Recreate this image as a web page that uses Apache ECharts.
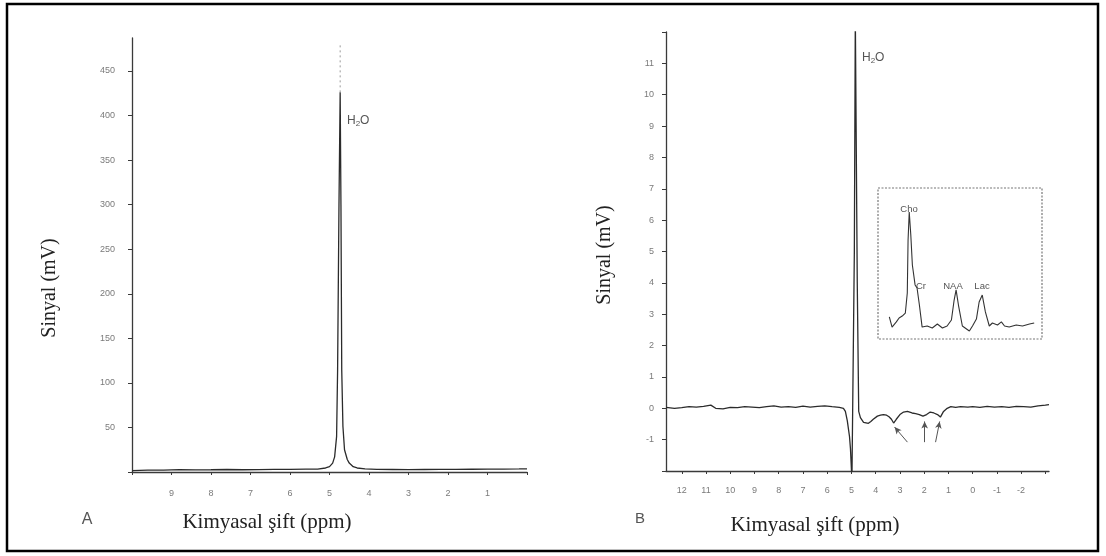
<!DOCTYPE html>
<html><head><meta charset="utf-8">
<script src="https://cdn.jsdelivr.net/npm/echarts@6/dist/echarts.min.js"></script>
<style>html,body{margin:0;padding:0;background:#fff}#c{width:1106px;height:556px}</style>
</head><body><div id="c"></div>
<script>
// ---- Panel A (full spectrum) ----
const leftPpm    = [10, 9.6, 9.2, 8.8, 8.4, 8.0, 7.6, 7.2, 6.8, 6.4, 6.0, 5.6, 5.3, 5.1, 5.0, 4.92, 4.87, 4.82, 4.795, 4.76, 4.73, 4.71, 4.69, 4.66, 4.62, 4.55, 4.5, 4.4, 4.3, 4.1, 3.8, 3.4, 3.0, 2.6, 2.2, 1.8, 1.4, 1.0, 0.6, 0.2, 0.0];
const leftSignal = [1.5, 2.2, 2.0, 2.6, 2.3, 2.5, 2.8, 2.5, 2.7, 2.9, 3.0, 3.2, 3.3, 4.5, 6, 10, 17, 40, 114, 300, 426, 300, 114, 51, 25, 14, 10, 6, 4.5, 3.5, 3.0, 2.8, 2.6, 2.8, 3.0, 2.9, 3.1, 3.2, 3.3, 3.4, 3.5];
const leftGhostPpm = [4.73, 4.73];
const leftGhostSignal = [426, 482];
const leftXTicks = [10, 9, 8, 7, 6, 5, 4, 3, 2, 1, 0];
const leftXLabels = [9, 8, 7, 6, 5, 4, 3, 2, 1];
const leftYTicks = [0, 50, 100, 150, 200, 250, 300, 350, 400, 450];
const leftYLabels = [50, 100, 150, 200, 250, 300, 350, 400, 450];

// ---- Panel B (water-suppressed spectrum) ----
const rightPpm    = [12.65, 12.3, 12.0, 11.7, 11.4, 11.1, 10.8, 10.6, 10.3, 10.0, 9.7, 9.4, 9.1, 8.8, 8.5, 8.2, 7.9, 7.6, 7.3, 7.0, 6.7, 6.4, 6.1, 5.8, 5.5, 5.33, 5.25, 5.17, 5.08, 5.04, 4.98, 4.92, 4.88, 4.84, 4.76, 4.7, 4.63, 4.5, 4.42, 4.3, 4.2, 4.1, 3.93, 3.8, 3.68, 3.55, 3.45, 3.35, 3.26, 3.15, 3.0, 2.85, 2.69, 2.5, 2.35, 2.2, 2.05, 1.98, 1.9, 1.75, 1.6, 1.45, 1.33, 1.2, 1.05, 0.9, 0.7, 0.5, 0.2, 0.0, -0.3, -0.6, -0.9, -1.2, -1.5, -1.8, -2.1, -2.4, -2.7, -3.0, -3.15];
const rightSignal = [0.03, 0.0, 0.02, 0.05, 0.04, 0.06, 0.1, 0.0, -0.02, 0.03, 0.02, 0.05, 0.04, 0.02, 0.05, 0.08, 0.04, 0.05, 0.03, 0.07, 0.04, 0.06, 0.08, 0.05, 0.03, 0.0, -0.1, -0.4, -0.9, -1.3, -2.3, -2.3, 5, 12.5, 4, -0.1, -0.3, -0.45, -0.4, -0.48, -0.42, -0.35, -0.25, -0.22, -0.2, -0.22, -0.27, -0.35, -0.47, -0.35, -0.2, -0.12, -0.1, -0.15, -0.17, -0.2, -0.25, -0.3, -0.2, -0.12, -0.15, -0.2, -0.28, -0.1, 0.0, 0.05, 0.03, 0.05, 0.04, 0.05, 0.03, 0.06, 0.04, 0.05, 0.03, 0.06, 0.05, 0.04, 0.08, 0.1, 0.12];
const rightXTicks = [12, 11, 10, 9, 8, 7, 6, 5, 4, 3, 2, 1, 0, -1, -2, -3];
const rightXLabels = [12, 11, 10, 9, 8, 7, 6, 5, 4, 3, 2, 1, 0, -1, -2];
const rightYTicks = [-2, -1, 0, 1, 2, 3, 4, 5, 6, 7, 8, 9, 10, 11, 12];
const rightYLabels = [-1, 0, 1, 2, 3, 4, 5, 6, 7, 8, 9, 10, 11];
// arrows pointing to the negative dips: [fromPpm, fromSignal, toPpm, toSignal]
const arrowFrom = [[2.69, -1.08], [1.98, -1.08], [1.53, -1.08]];
const arrowTo   = [[3.22, -0.6], [1.98, -0.42], [1.36, -0.42]];

// ---- Inset (metabolite region) ----
const insetPpm    = [3.71, 3.64, 3.53, 3.46, 3.38, 3.30, 3.25, 3.23, 3.20, 3.16, 3.12, 3.05, 3.0, 2.94, 2.87, 2.74, 2.61, 2.48, 2.35, 2.23, 2.12, 2.05, 2.0, 1.94, 1.84, 1.66, 1.58, 1.48, 1.41, 1.33, 1.25, 1.15, 1.07, 0.94, 0.84, 0.76, 0.64, 0.46, 0.30, 0.12, 0.0];
const insetSignal = [14.6, 7.9, 11.3, 13.9, 15.2, 17.2, 30.5, 65.6, 84.1, 68.9, 49, 35.8, 33.8, 22.5, 7.9, 8.6, 7.3, 9.9, 7.3, 8.6, 12.6, 25.8, 32.5, 22.5, 8.6, 5.3, 8.6, 13.2, 24.5, 29.1, 17.9, 8.6, 10.6, 9.3, 11.3, 8.6, 7.9, 9.3, 8.6, 9.9, 10.6];

const zip = (a, b) => a.map((v, i) => [v, b[i]]);
const LINE = '#2b2b2b';
const AXC = '#3a3a3a';
const LBL = '#7a7a7a';

function xAx(gi, min, max, ticks, labels, margin, show) {
  return {
    type: 'value', gridIndex: gi, min: min, max: max, inverse: true, show: show !== false,
    axisLine: {show: true, onZero: false, lineStyle: {color: AXC, width: 1.3}},
    axisTick: {show: true, length: 3, customValues: ticks, lineStyle: {color: AXC, width: 1}},
    axisLabel: {customValues: labels, margin: margin, fontSize: 9, color: LBL, fontFamily: 'Liberation Sans'},
    splitLine: {show: false}
  };
}
function yAx(gi, min, max, ticks, labels, margin, show) {
  return {
    type: 'value', gridIndex: gi, min: min, max: max, show: show !== false,
    axisLine: {show: true, onZero: false, lineStyle: {color: AXC, width: 1.3}},
    axisTick: {show: true, length: 4, customValues: ticks, lineStyle: {color: AXC, width: 1}},
    axisLabel: {customValues: labels, margin: margin, fontSize: 9, color: LBL, fontFamily: 'Liberation Sans'},
    splitLine: {show: false}
  };
}

const serif = 'Liberation Serif';
function txt(x, y, text, size, opts) {
  return Object.assign({
    type: 'text', x: x, y: y,
    style: Object.assign({text: text, font: size + 'px "' + serif + '"', fill: '#222', align: 'center', verticalAlign: 'middle'}, (opts && opts.style) || {})
  }, opts && opts.rotation !== undefined ? {rotation: opts.rotation} : {});
}
function h2o(x, y) {
  return {
    type: 'text', x: x, y: y,
    style: {
      text: 'H{s|2}O', fill: '#555', align: 'left', verticalAlign: 'middle',
      font: '12px "Liberation Sans"',
      rich: {s: {fontSize: 8, fill: '#555', verticalAlign: 'bottom', padding: [6, 0, 0, 0]}}
    }
  };
}
function small(x, y, text) {
  return {type: 'text', x: x, y: y, style: {text: text, font: '9.5px "Liberation Sans"', fill: '#555', align: 'center', verticalAlign: 'middle'}};
}

const chart = echarts.init(document.getElementById('c'), null, {renderer: 'canvas'});
chart.setOption({
  animation: false,
  backgroundColor: '#fff',
  grid: [
    {left: 132, top: 38, width: 395, height: 434},
    {left: 666, top: 32, width: 383, height: 439},
    {left: 878, top: 188, width: 164, height: 151}
  ],
  xAxis: [
    xAx(0, 0, 10, leftXTicks, leftXLabels, 17),
    xAx(1, -3.15, 12.65, rightXTicks, rightXLabels, 15),
    {type: 'value', gridIndex: 2, min: -0.2, max: 4.0, inverse: true, show: false}
  ],
  yAxis: [
    yAx(0, 0, 487, leftYTicks, leftYLabels, 17),
    yAx(1, -2, 12, rightYTicks, rightYLabels, 12),
    {type: 'value', gridIndex: 2, min: 0, max: 100, show: false}
  ],
  series: [
    {type: 'line', xAxisIndex: 0, yAxisIndex: 0, data: zip(leftPpm, leftSignal), showSymbol: false, clip: true,
      lineStyle: {color: LINE, width: 1.3}},
    {type: 'line', xAxisIndex: 0, yAxisIndex: 0, data: zip(leftGhostPpm, leftGhostSignal), showSymbol: false,
      lineStyle: {color: '#999', width: 1, type: [2, 3]}},
    {type: 'line', xAxisIndex: 1, yAxisIndex: 1, data: zip(rightPpm, rightSignal), showSymbol: false, clip: true,
      lineStyle: {color: LINE, width: 1.3},
      markLine: {
        silent: true, symbol: ['none', 'arrow'], symbolSize: [5, 7], label: {show: false},
        lineStyle: {color: '#555', width: 1, type: 'solid'},
        data: arrowFrom.map((f, i) => [{coord: f}, {coord: arrowTo[i]}])
      }},
    {type: 'line', xAxisIndex: 2, yAxisIndex: 2, data: zip(insetPpm, insetSignal), showSymbol: false,
      lineStyle: {color: '#333', width: 1.1}}
  ],
  graphic: [
    {type: 'rect', shape: {x: 7, y: 4, width: 1091, height: 547}, style: {fill: 'none', stroke: '#000', lineWidth: 2.5}},
    {type: 'rect', shape: {x: 878, y: 188, width: 164, height: 151}, style: {fill: 'none', stroke: '#777', lineWidth: 1.2, lineDash: [2, 1.5]}},
    txt(50, 288, 'Sinyal (mV)', 20, {rotation: Math.PI / 2}),
    txt(605, 255, 'Sinyal (mV)', 20, {rotation: Math.PI / 2}),
    txt(267, 522, 'Kimyasal şift (ppm)', 21),
    txt(815, 525, 'Kimyasal şift (ppm)', 21),
    {type: 'text', x: 87, y: 520, style: {text: 'A', font: '16px "Liberation Sans"', fill: '#555', align: 'center', verticalAlign: 'middle'}},
    {type: 'text', x: 640, y: 519, style: {text: 'B', font: '15px "Liberation Sans"', fill: '#555', align: 'center', verticalAlign: 'middle'}},
    h2o(347, 121),
    h2o(862, 58),
    small(909, 209, 'Cho'),
    small(921, 286, 'Cr'),
    small(953, 286, 'NAA'),
    small(982, 286, 'Lac')
  ]
});
</script>
</body></html>
